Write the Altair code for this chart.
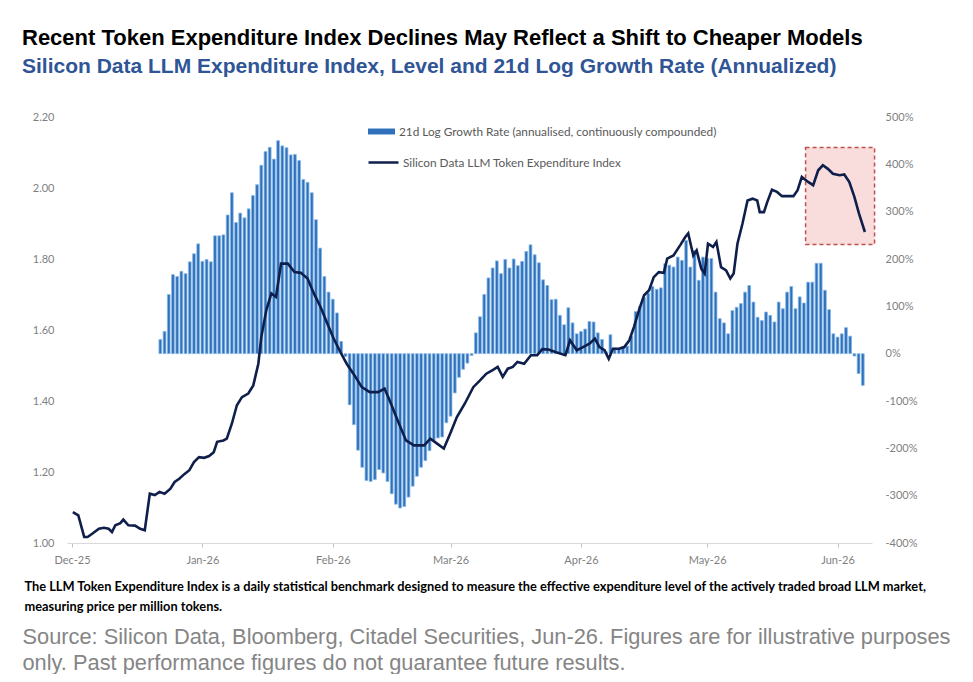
import altair as alt
import pandas as pd

# ---------------- text ----------------
TITLE = "Recent Token Expenditure Index Declines May Reflect a Shift to Cheaper Models"
SUBTITLE = "Silicon Data LLM Expenditure Index, Level and 21d Log Growth Rate (Annualized)"
BAR_LABEL = "21d Log Growth Rate (annualised, continuously compounded)"
LINE_LABEL = "Silicon Data LLM Token Expenditure Index"
FOOTNOTE = [
    "The LLM Token Expenditure Index is a daily statistical benchmark designed to measure the effective expenditure level of the actively traded broad LLM market,",
    "measuring price per million tokens.",
]
SOURCE = [
    "Source: Silicon Data, Bloomberg, Citadel Securities, Jun-26. Figures are for illustrative purposes",
    "only. Past performance figures do not guarantee future results.",
]

# ---------------- data ----------------
START = "2025-12-01"

# index level: day offset from START, level
index_day = [0.2, 1.5, 2.9, 3.7, 4.8, 6.4, 7.6, 8.7, 9.5, 10.3, 11.5, 12.2, 13.4, 15.0, 16.2, 17.3,
             18.5, 19.7, 20.8, 22.0, 23.4, 24.4, 25.5, 26.7, 27.9, 29.0, 30.2, 31.4, 32.6, 33.7,
             34.5, 36.0, 36.8, 38.0, 39.2, 40.4, 41.9, 43.1, 44.3, 45.0, 46.2, 47.4, 48.5, 49.7,
             51.3, 52.9, 54.4, 56.0, 57.5, 59.1, 60.7, 62.2, 63.8, 65.3, 66.9, 68.9, 70.8, 72.8,
             74.3, 75.5, 77.4, 79.4, 81.3, 83.7, 85.2, 86.8, 88.4, 89.9, 91.5, 93.4, 95.4, 97.0,
             98.5, 100.1, 101.2, 102.4, 103.6, 104.8, 105.9, 107.5, 109.1, 110.6, 111.8, 113.3,
             114.9, 117.3, 118.4, 120.0, 121.5, 123.1, 124.3, 125.4, 126.6, 127.6, 128.6, 130.1,
             131.3, 132.5, 133.6, 134.8, 136.0, 137.2, 138.3, 139.5, 140.7, 141.5, 143.0, 144.6,
             145.8, 146.5, 147.7, 148.5, 149.6, 150.4, 151.2, 152.4, 153.2, 154.3, 155.5, 156.5,
             157.3, 158.2, 159.4, 160.6, 161.8, 162.9, 163.5, 164.5, 165.3, 166.4, 167.6, 168.8,
             171.5, 172.5, 173.5, 175.0, 176.2, 177.4, 178.5, 179.7, 180.9, 182.5, 183.6, 184.8,
             186.0, 187.1, 188.5]
index_level = [1.087, 1.078, 1.017, 1.017, 1.026, 1.040, 1.043, 1.040, 1.031, 1.050, 1.056, 1.066,
               1.050, 1.049, 1.040, 1.036, 1.139, 1.135, 1.144, 1.139, 1.153, 1.172, 1.181, 1.194,
               1.205, 1.228, 1.242, 1.240, 1.245, 1.256, 1.285, 1.289, 1.294, 1.336, 1.388, 1.411,
               1.421, 1.444, 1.505, 1.580, 1.656, 1.703, 1.693, 1.787, 1.787, 1.763, 1.761, 1.745,
               1.703, 1.665, 1.618, 1.576, 1.538, 1.505, 1.477, 1.439, 1.425, 1.425, 1.435, 1.402,
               1.346, 1.289, 1.275, 1.275, 1.294, 1.280, 1.266, 1.308, 1.355, 1.393, 1.439, 1.458,
               1.477, 1.488, 1.496, 1.468, 1.491, 1.496, 1.510, 1.505, 1.529, 1.529, 1.546, 1.545,
               1.538, 1.529, 1.571, 1.543, 1.552, 1.562, 1.576, 1.552, 1.543, 1.519, 1.547, 1.547,
               1.552, 1.571, 1.609, 1.656, 1.698, 1.712, 1.749, 1.763, 1.761, 1.801, 1.810, 1.839,
               1.862, 1.872, 1.810, 1.824, 1.773, 1.759, 1.843, 1.834, 1.848, 1.777, 1.768, 1.745,
               1.759, 1.843, 1.900, 1.965, 1.970, 1.965, 1.932, 1.932, 1.961, 1.995, 1.989, 1.977,
               1.977, 1.994, 2.031, 2.017, 2.008, 2.050, 2.064, 2.054, 2.040, 2.036, 2.038, 2.017,
               1.975, 1.928, 1.876]

# 21d log growth rate (annualised, %), one bar per day starting at day offset 21
growth_first_day = 21
growth_pct = [30, 47, 125, 167, 163, 174, 169, 194, 211, 232, 195, 199, 194, 249, 249, 251, 293,
              340, 277, 297, 287, 306, 334, 357, 398, 427, 436, 411, 450, 439, 435, 420, 421, 408,
              368, 362, 340, 283, 223, 163, 130, 115, 86, 26,
              -6, -108, -150, -204, -240, -268, -270, -266, -245, -252, -270, -296, -318, -326,
              -323, -303, -280, -259, -240, -226, -205, -183, -178, -176, -146, -132, -83, -50,
              -33, -20, -4,
              44, 78, 125, 160, 181, 196, 169, 199, 181, 200, 186, 195, 216, 230, 209, 192, 156,
              144, 114, 115, 81, 61, 97, 65, 42, 47, 52, 68, 67, 44, 30, 4, 40, 12, 12, 15, 16,
              37, 89, 100, 118, 128, 142, 136,
              139, 190, 187, 183, 204, 197, 239, 183, 218, 155, 204, 201, 201, 130, 74, 65, 42,
              91, 98, 106, 130, 144, 109, 77, 70, 88, 81, 67, 109, 95, 130, 142, 95, 120, 107,
              151, 151, 191, 191, 134, 93, 42, 35, 42, 55, 37, -5, -42, -67]

# highlighted recent decline (day offsets, index levels)
box_day = [174.4, 190.8]
box_level = [2.114, 1.841]

left_ticks = [1.00, 1.20, 1.40, 1.60, 1.80, 2.00, 2.20]
right_ticks = [-400, -300, -200, -100, 0, 100, 200, 300, 400, 500]
month_ticks = [(2025, 12), (2026, 1), (2026, 2), (2026, 3), (2026, 4), (2026, 5), (2026, 6)]
x_end = (2026, 6, 8)

# ---------------- tables ----------------
base = pd.Timestamp(START, tz="UTC")


def iso(d):
    return (base + pd.to_timedelta(d, unit="D")).strftime("%Y-%m-%dT%H:%M:%SZ")


line_df = pd.DataFrame({
    "date": [iso(d) for d in index_day],
    "level": index_level,
    "series": LINE_LABEL,
})
bar_df = pd.DataFrame({
    "date": [iso(growth_first_day + i) for i in range(len(growth_pct))],
    "growth": growth_pct,
    "gseries": BAR_LABEL,
})
box_df = pd.DataFrame({
    "start": [iso(box_day[0])],
    "end": [iso(box_day[1])],
    "top": [box_level[0]],
    "bottom": [box_level[1]],
})

# ---------------- styling ----------------
GRAY = "#7f7f7f"
AXFONT = "Lato"

x_scale = alt.Scale(
    type="utc",
    domain=[alt.DateTime(year=2025, month=12, date=1, utc=True),
            alt.DateTime(year=x_end[0], month=x_end[1], date=x_end[2], utc=True)],
)
x_axis = alt.Axis(
    values=[alt.DateTime(year=y, month=m, date=1, utc=True) for y, m in month_ticks],
    labelExpr="utcFormat(datum.value, '%b-%y')",
    labelFont=AXFONT, labelFontSize=11, labelColor=GRAY, labelPadding=7,
    domainColor="#d9d9d9", tickColor="#bfbfbf", tickSize=4, grid=False,
    title=FOOTNOTE, titleX=-43, titleY=37, titleAlign="left", titleBaseline="top",
    titleFont=AXFONT, titleFontSize=12.8, titleFontWeight="bold", titleColor="#000000",
    titleLineHeight=20,
)
left_scale = alt.Scale(domain=[1.0, 2.2], nice=False, zero=False)
left_axis = alt.Axis(
    orient="left", values=left_ticks, format=".2f", grid=False, domain=False,
    ticks=False, tickSize=0, labelPadding=13,
    labelFont=AXFONT, labelFontSize=11, labelColor=GRAY,
    title=SOURCE, titleAngle=0, titleX=-45, titleY=509, titleAlign="left",
    titleBaseline="top", titleFont="Liberation Sans", titleFontSize=21.8,
    titleFontWeight="normal", titleColor="#858585", titleLineHeight=26,
)
right_axis = alt.Axis(
    orient="right", values=right_ticks, labelExpr="datum.value + '%'", grid=False,
    domain=False, ticks=False, tickSize=0, labelPadding=13,
    labelFont=AXFONT, labelFontSize=11, labelColor=GRAY, title=None,
)

bars = alt.Chart(bar_df).mark_bar(size=2.8, stroke="#8cbbe8", strokeWidth=0.8).encode(
    x=alt.X("date:T", scale=x_scale, axis=x_axis),
    y=alt.Y("growth:Q", scale=alt.Scale(domain=[-400, 500], nice=False), axis=right_axis),
    fill=alt.Fill(
        "gseries:N",
        scale=alt.Scale(domain=[BAR_LABEL], range=["#2f70bb"]),
        legend=alt.Legend(
            title=None, orient="none", legendX=301, legendY=1,
            symbolType="M-1,-0.22H1V0.22H-1Z", symbolSize=729, symbolStrokeWidth=0,
            labelFont=AXFONT, labelFontSize=11.8, labelColor="#595959", labelOffset=4,
            labelLimit=600, padding=0,
        ),
    ),
)

box = alt.Chart(box_df).mark_rect(
    fill="#f9dcdc", stroke="#c0504d", strokeDash=[4, 3], strokeWidth=1.5
).encode(
    x=alt.X("start:T", scale=x_scale, axis=x_axis),
    x2="end:T",
    y=alt.Y("top:Q", scale=left_scale, axis=left_axis),
    y2="bottom:Q",
)

line = alt.Chart(line_df).mark_line(strokeWidth=2.6).encode(
    x=alt.X("date:T", scale=x_scale, axis=x_axis),
    y=alt.Y("level:Q", scale=left_scale, axis=left_axis),
    stroke=alt.Stroke(
        "series:N",
        scale=alt.Scale(domain=[LINE_LABEL], range=["#0f1f4b"]),
        legend=alt.Legend(
            title=None, orient="none", legendX=300, legendY=29,
            symbolType="stroke", symbolSize=900, symbolStrokeWidth=2.5,
            labelFont=AXFONT, labelFontSize=11.8, labelColor="#595959", labelOffset=3,
            labelLimit=600, padding=0,
        ),
    ),
)

chart = alt.layer(bars, alt.layer(box, line)).resolve_scale(y="independent").properties(
    width=805,
    height=426,
    padding={"left": 59, "top": 109, "right": 88, "bottom": 131},
    autosize=alt.AutoSizeParams(type="none"),
    background="white",
    title=alt.TitleParams(
        text=TITLE, subtitle=SUBTITLE, anchor="start", frame="group", dx=-45, offset=33,
        font="Liberation Sans", fontSize=22, fontWeight="bold", color="#000000",
        subtitleFont="Liberation Sans", subtitleFontSize=21, subtitleFontWeight="bold",
        subtitleColor="#2f5597", subtitlePadding=6,
    ),
).configure_view(strokeWidth=0)

chart.save("out.html", embed_options={"renderer": "svg", "actions": False})
